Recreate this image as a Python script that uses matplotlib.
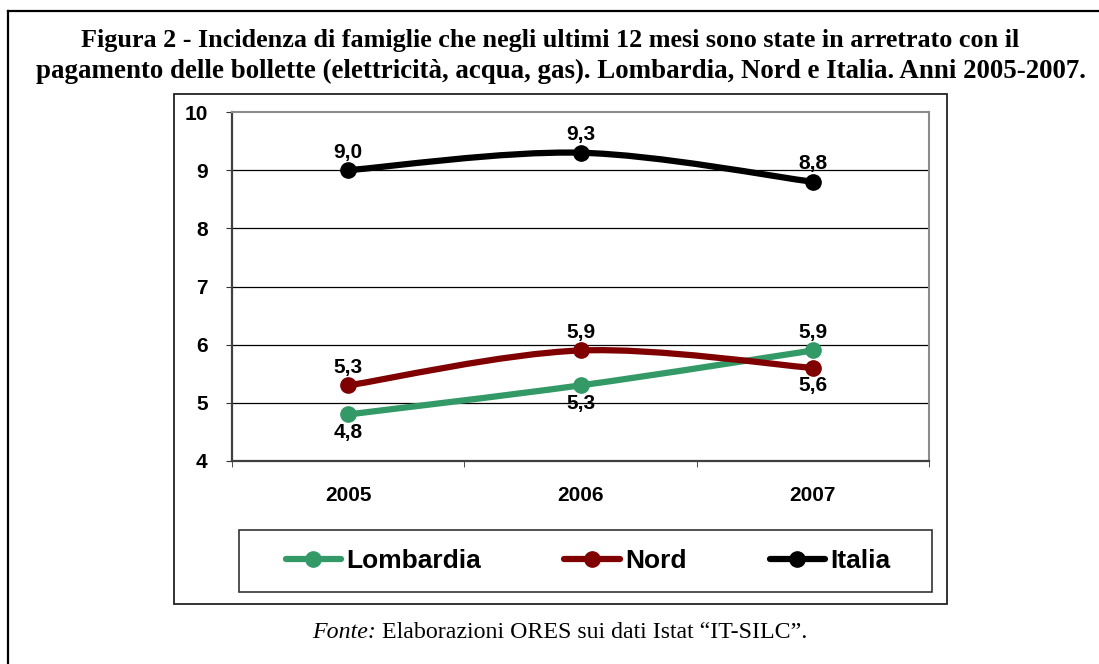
import numpy as np
import matplotlib
matplotlib.use("Agg")
import matplotlib.pyplot as plt
from matplotlib.path import Path
from matplotlib.patches import PathPatch, Rectangle
from matplotlib.lines import Line2D

# ===== DATA =====
anni = ["2005", "2006", "2007"]
lombardia = [4.8, 5.3, 5.9]
nord = [5.3, 5.9, 5.6]
italia = [9.0, 9.3, 8.8]
etichette_lomb = ["4,8", "5,3", "5,9"]
etichette_nord = ["5,3", "5,9", "5,6"]
etichette_ita = ["9,0", "9,3", "8,8"]
# label placement: +1 above, -1 below
pos_lomb = [-1, -1, 1]
pos_nord = [1, 1, -1]
pos_ita = [1, 1, 1]

VERDE = "#339966"
ROSSO = "#800000"
NERO = "#000000"

W, H = 1099, 664


def fx(px):
    return px / W


def fy(py):
    return 1 - py / H


def smooth_path(x, y, tension=1 / 6):
    # Catmull-Rom style bezier through the points (Excel "smoothed line")
    x = np.asarray(x, float)
    y = np.asarray(y, float)
    verts = [(x[0], y[0])]
    codes = [Path.MOVETO]
    n = len(x)
    for i in range(n - 1):
        p0 = (x[max(i - 1, 0)], y[max(i - 1, 0)])
        p1 = (x[i], y[i])
        p2 = (x[i + 1], y[i + 1])
        p3 = (x[min(i + 2, n - 1)], y[min(i + 2, n - 1)])
        c1 = (p1[0] + (p2[0] - p0[0]) * tension, p1[1] + (p2[1] - p0[1]) * tension)
        c2 = (p2[0] - (p3[0] - p1[0]) * tension, p2[1] - (p3[1] - p1[1]) * tension)
        verts += [c1, c2, p2]
        codes += [Path.CURVE4] * 3
    return Path(verts, codes)


plt.rcParams["font.family"] = ["Liberation Sans", "DejaVu Sans"]

fig = plt.figure(figsize=(W / 100, H / 100), dpi=100)

# outer frame (only top and left visible in the crop)
fig.add_artist(Line2D([fx(8), 1], [fy(11), fy(11)], color="black", lw=1.6))
fig.add_artist(Line2D([fx(8), fx(8)], [fy(11), 0], color="black", lw=1.6))

# chart frame
fig.add_artist(Rectangle((fx(174), fy(604)), fx(947) - fx(174), fy(94) - fy(604),
                         fill=False, edgecolor="#222222", lw=1.3))

fig.text(fx(550), fy(40), "Figura 2 - Incidenza di famiglie che negli ultimi 12 mesi sono state in arretrato con il",
         ha="center", va="center", fontsize=18.8, fontweight="bold", family="Liberation Serif")
fig.text(fx(561), fy(71), "pagamento delle bollette (elettricità, acqua, gas). Lombardia, Nord e Italia. Anni 2005-2007.",
         ha="center", va="center", fontsize=19.4, fontweight="bold", family="Liberation Serif")

# footer: italic "Fonte:" + plain text, centred as one line
t1 = fig.text(0, fy(632), "Fonte:", ha="left", va="center", fontsize=17.2,
              style="italic", family="Liberation Serif")
t2 = fig.text(0, fy(632), " Elaborazioni ORES sui dati Istat \u201cIT-SILC\u201d.", ha="left", va="center",
              fontsize=17.2, family="Liberation Serif")
r = fig.canvas.get_renderer()
w1 = t1.get_window_extent(r).width
w2 = t2.get_window_extent(r).width
start = 560 - (w1 + w2) / 2
t1.set_x(fx(start))
t2.set_x(fx(start + w1))

ax = fig.add_axes([fx(232), fy(461), fx(929) - fx(232), fy(112) - fy(461)])
x = np.arange(len(anni))

ax.set_xlim(-0.5, len(anni) - 0.5)
ax.set_ylim(4, 10)
ax.set_yticks(range(4, 11))
ax.set_yticklabels([str(v) for v in range(4, 11)], fontsize=15, fontweight="bold")
ax.set_xticks(x)
ax.set_xticklabels(anni, fontsize=15, fontweight="bold")
ax.set_xticks(np.arange(-0.5, len(anni)), minor=True)
ax.tick_params(axis="x", which="major", length=0, pad=18)
ax.tick_params(axis="x", which="minor", length=4.5, direction="out", color="#333333")
ax.tick_params(axis="y", length=4.5, direction="out", pad=13, color="#333333")
for v in range(5, 10):
    ax.axhline(v, color="black", lw=0.9, zorder=1)
for s in ["top", "right"]:
    ax.spines[s].set_color("#8c8c8c")
    ax.spines[s].set_linewidth(1.5)
for s in ["left", "bottom"]:
    ax.spines[s].set_color("#404040")
    ax.spines[s].set_linewidth(1.6)

serie = [
    ("Lombardia", lombardia, VERDE, etichette_lomb, pos_lomb),
    ("Nord", nord, ROSSO, etichette_nord, pos_nord),
    ("Italia", italia, NERO, etichette_ita, pos_ita),
]
handles = []
for nome, vals, col, lab, pos in serie:
    ax.add_patch(PathPatch(smooth_path(x, vals), facecolor="none", edgecolor=col,
                           lw=4.5, capstyle="round", zorder=3))
    ax.plot(x, vals, "o", color=col, ms=11, zorder=4)
    for xi, v, t, p in zip(x, vals, lab, pos):
        ax.annotate(t, (xi, v), xytext=(0, 18 * p), textcoords="offset pixels",
                    ha="center", va="center", fontsize=15, fontweight="bold", zorder=5)
    handles.append(Line2D([], [], color=col, lw=4.5, marker="o", ms=11, solid_capstyle="round"))

# legend frame
fig.add_artist(Rectangle((fx(239), fy(592)), fx(932) - fx(239), fy(530) - fy(592),
                         fill=False, edgecolor="#333333", lw=1.2))
fig.legend(handles, [s[0] for s in serie], loc="center", ncol=3,
           bbox_to_anchor=(fx(588), fy(561)), frameon=False,
           prop={"size": 19, "weight": "bold"}, handlelength=2.1,
           handletextpad=0.2, columnspacing=3.15)

fig.savefig("out.png", dpi=100)
